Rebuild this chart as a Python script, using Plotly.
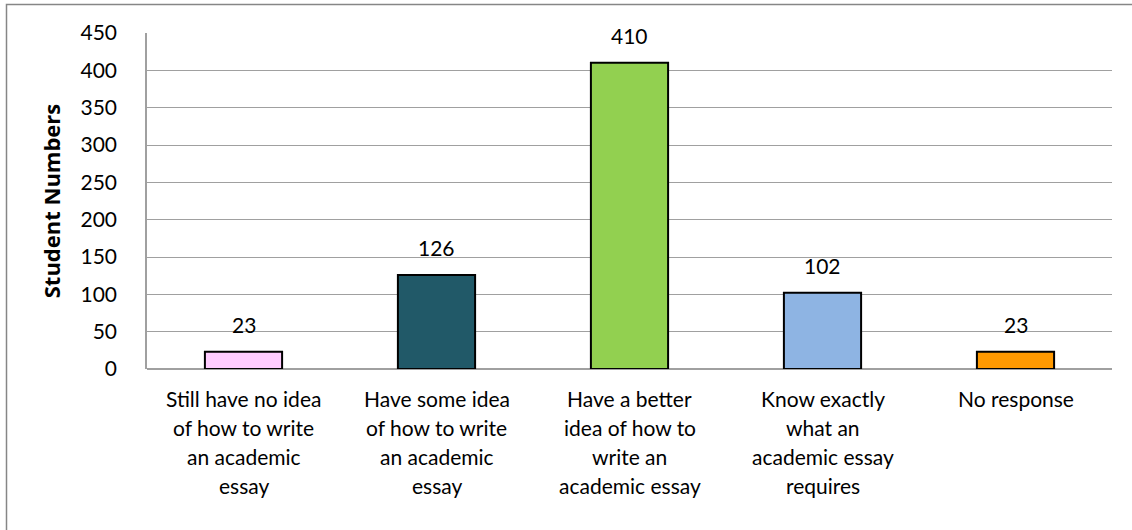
import plotly.graph_objects as go

categories = ["Still have no idea", "Have some idea", "Have a better idea",
              "Know exactly", "No response"]
label_lines = [
    ["Still have no idea", "of how to write", "an academic", "essay"],
    ["Have some idea", "of how to write", "an academic", "essay"],
    ["Have a better", "idea of how to", "write an", "academic essay"],
    ["Know exactly", "what an", "academic essay", "requires"],
    ["No response"],
]
values = [23, 126, 410, 102, 23]
colors = ["#FFCCFF", "#215968", "#92D050", "#8EB4E3", "#FF9900"]
y_ticks = [0, 50, 100, 150, 200, 250, 300, 350, 400, 450]

FONT = "Lato"
FS = 21
W, H = 1132, 530
L, R, T, B = 147, 20, 33, 161
pw, ph = W - L - R, H - T - B

fig = go.Figure()
fig.add_trace(go.Bar(
    x=categories, y=values,
    marker=dict(color=colors, line=dict(color="#000000", width=2)),
    width=0.4, showlegend=False, hoverinfo="x+y",
))

annotations = []
for c, v in zip(categories, values):
    annotations.append(dict(x=c, y=v, xref="x", yref="y", text=str(v),
                            showarrow=False, yanchor="bottom", yshift=13,
                            font=dict(family=FONT, size=FS, color="#000000")))
for c, lines in zip(categories, label_lines):
    for i, ln in enumerate(lines):
        annotations.append(dict(x=c, y=0, xref="x", yref="paper", text=ln,
                                showarrow=False, yanchor="middle",
                                yshift=-(29 + 29 * i),
                                font=dict(family=FONT, size=FS, color="#000000")))

fig.update_layout(
    width=W, height=H,
    margin=dict(l=L, r=R, t=T, b=B, pad=0),
    paper_bgcolor="white", plot_bgcolor="white",
    font=dict(family=FONT, size=FS, color="#000000"),
    annotations=annotations,
    shapes=[dict(type="rect", xref="paper", yref="paper",
                 x0=(6.5 - L) / pw, x1=(W + 10 - L) / pw,
                 y0=(H - B - (H + 10)) / ph, y1=(H - B - 4.5) / ph,
                 line=dict(color="#868686", width=1.5), fillcolor="rgba(0,0,0,0)",
                 layer="below")],
    bargap=0.6,
)
fig.update_xaxes(showticklabels=False, showgrid=False, zeroline=False,
                 showline=False, ticks="")
fig.update_yaxes(range=[0, 450], tickvals=y_ticks, showgrid=True,
                 gridcolor="#A0A0A0", gridwidth=1, zeroline=True,
                 zerolinecolor="#A0A0A0", zerolinewidth=1.5,
                 showline=True, linecolor="#A0A0A0", linewidth=1.5,
                 ticks="", ticklabelstandoff=24,
                 tickfont=dict(family=FONT, size=FS),
                 title=dict(text="<b>Student Numbers</b>", standoff=14,
                            font=dict(family="Open Sans", size=22)))

fig.write_html("out.html", config={"displayModeBar": False},
               post_script="document.body.style.margin='0px';document.body.style.padding='0px';")
